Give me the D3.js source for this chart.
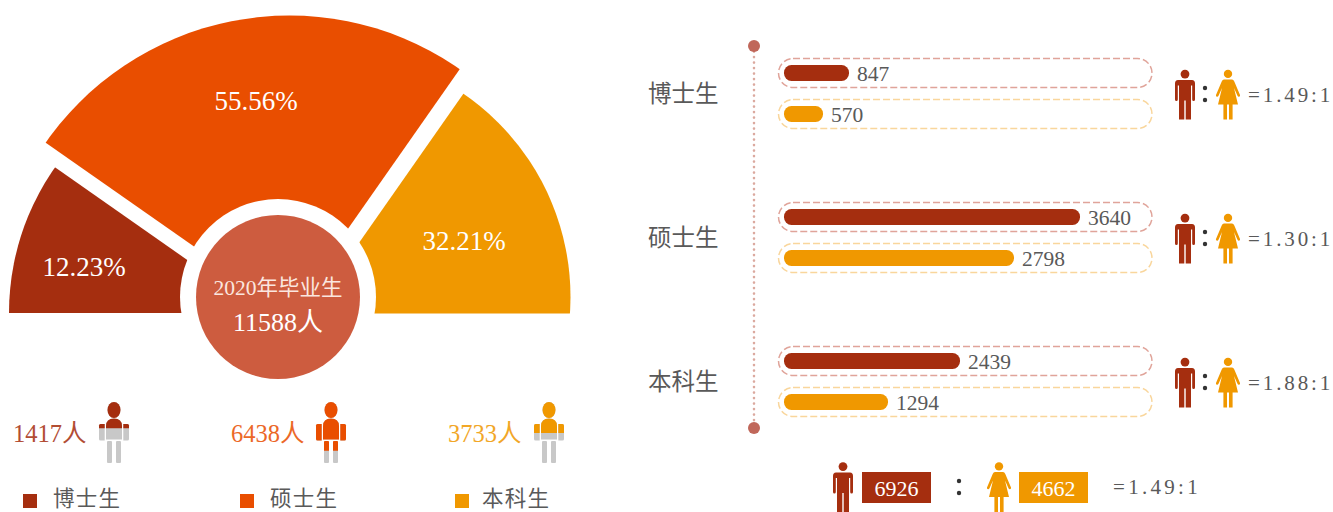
<!DOCTYPE html>
<html>
<head>
<meta charset="utf-8">
<script src="https://cdn.jsdelivr.net/npm/d3@7"></script>
<style>
  html, body { margin: 0; padding: 0; background: #fff; overflow: hidden; }
  svg { display: block; }
  text { font-family: "Liberation Serif", "Noto Sans CJK SC", serif; }
</style>
</head>
<body>
<svg id="chart" width="1333" height="512"></svg>
<script>
// Values
const categories = ["博士生", "硕士生", "本科生"];
const percents = [12.23, 55.56, 32.21];
const totals = [1417, 6438, 3733];
const iconShare = [0.43, 0.8, 0.51];
const maleCounts = [847, 3640, 2439];
const femaleCounts = [570, 2798, 1294];
const ratios = ["1.49:1", "1.30:1", "1.88:1"];
const allMale = 6926;
const allFemale = 4662;
const allRatio = "1.49:1";
const centerTitle = "2020年毕业生";
const centerTotal = 11588;

const colors = ["#a52e0f", "#e94e00", "#f09800"];
const maleColor = "#a52e0f";
const femaleColor = "#f09800";
const textGray = "#595959";

const svg = d3.select("#chart");

// Fan on the left. The original does not draw its angles in proportion,
// so the angle scale is piecewise, and each slice is pulled out on its own.
const cumulative = d3.cumsum(percents);
const angle = d3.scaleLinear()
  .domain([0, ...cumulative])
  .range([-90, -55, 35, 90].map((d) => (d * Math.PI) / 180));

// x, y = wedge apex; cx, cy, r = circle that trims the outer edge
const sliceLayout = [
  { x: 263, y: 313, cx: 263, cy: 313, r: 254, lx: 84, ly: 267 },
  { x: 289, y: 313, cx: 289.5, cy: 313, r: 297.5, lx: 256, ly: 101 },
  { x: 309.5, y: 313.5, cx: 324, cy: 297, r: 246.5, lx: 464, ly: 241 },
];

const arc = d3.arc().innerRadius(0).outerRadius(420);
const g_fan = svg.append("g");

g_fan.selectAll("clipPath")
  .data(sliceLayout)
  .join("clipPath")
  .attr("id", (d, i) => `slice_clip_${i}`)
  .append("circle")
  .attr("cx", (d) => d.cx)
  .attr("cy", (d) => d.cy)
  .attr("r", (d) => d.r);

g_fan.selectAll("g.slice")
  .data(percents)
  .join("g")
  .attr("class", "slice")
  .attr("clip-path", (d, i) => `url(#slice_clip_${i})`)
  .append("path")
  .attr("transform", (d, i) => `translate(${sliceLayout[i].x},${sliceLayout[i].y})`)
  .attr("fill", (d, i) => colors[i])
  .attr("d", (d, i) => arc({
    startAngle: angle(i === 0 ? 0 : cumulative[i - 1]),
    endAngle: angle(cumulative[i]),
  }));

g_fan.append("circle").attr("cx", 278).attr("cy", 297).attr("r", 98).attr("fill", "#fff");
g_fan.append("circle").attr("cx", 278).attr("cy", 297).attr("r", 82).attr("fill", "#cd5c3f");

g_fan.selectAll(".pct")
  .data(percents)
  .join("text")
  .attr("class", "pct")
  .attr("x", (d, i) => sliceLayout[i].lx)
  .attr("y", (d, i) => sliceLayout[i].ly)
  .attr("dy", "0.35em")
  .attr("text-anchor", "middle")
  .attr("fill", "#fff")
  .style("font-size", "27px")
  .text((d) => d.toFixed(2) + "%");

g_fan.append("text")
  .attr("x", 278).attr("y", 287).attr("dy", "0.35em")
  .attr("text-anchor", "middle").attr("fill", "#fbe6df")
  .style("font-size", "21.5px")
  .text(centerTitle);
g_fan.append("text")
  .attr("x", 278).attr("y", 322).attr("dy", "0.35em")
  .attr("text-anchor", "middle").attr("fill", "#fff")
  .style("font-size", "26px")
  .text(centerTotal + "人");

// Icons, drawn around x = 0, top at y = 0
function malePath(g, color) {
  g.append("circle").attr("cx", 0).attr("cy", 4.6).attr("r", 4.4).attr("fill", color);
  g.append("path").attr("fill", color)
    .attr("d", "M-7,10.5H7Q10,10.5 10,14V30Q10,31.5 8.6,31.5Q7.2,31.5 7.2,30V16H6V50H0.7V31H-0.7V50H-6V16H-7.2V30Q-7.2,31.5 -8.6,31.5Q-10,31.5 -10,30V14Q-10,10.5 -7,10.5Z");
}

function femalePath(g, color) {
  g.append("circle").attr("cx", 0).attr("cy", 4.4).attr("r", 4.2).attr("fill", color);
  g.append("path").attr("fill", color)
    .attr("d", "M-4,10H4Q5.5,10 6.3,12L12,25.5Q12.4,27 11,27.3Q10,27.4 9.5,26.3L6,18.5L10,35H4.6V50H1V35H-1V50H-4.6V35H-10L-6,18.5L-9.5,26.3Q-10,27.4 -11,27.3Q-12.4,27 -12,25.5L-6.3,12Q-5.5,10 -4,10Z");
}

function iconShape(g, color) {
  g.append("ellipse").attr("cx", 0).attr("cy", 8).attr("rx", 6.5).attr("ry", 8).attr("fill", color);
  g.append("path").attr("fill", color)
    .attr("d", "M-8,24Q-8,16.5 0,16.5Q8,16.5 8,24V37.5H-8Z");
  g.append("path").attr("fill", color)
    .attr("d", "M-15,23.5Q-15,22 -13.5,22H-9.3V38.5H-13.5Q-15,38.5 -15,37Z");
  g.append("path").attr("fill", color)
    .attr("d", "M15,23.5Q15,22 13.5,22H9.3V38.5H13.5Q15,38.5 15,37Z");
  g.append("rect").attr("x", -7).attr("y", 39).attr("width", 5).attr("height", 22).attr("rx", 1).attr("fill", color);
  g.append("rect").attr("x", 2).attr("y", 39).attr("width", 5).attr("height", 22).attr("rx", 1).attr("fill", color);
}

function colon(x, y) {
  svg.append("circle").attr("cx", x).attr("cy", y - 6).attr("r", 2.2).attr("fill", "#333");
  svg.append("circle").attr("cx", x).attr("cy", y + 6).attr("r", 2.2).attr("fill", "#333");
}

// Totals with filled figures under the fan
const totalLayout = [
  { tx: 13, ix: 114, sx: 23, lx: 53 },
  { tx: 231, ix: 331, sx: 240, lx: 270 },
  { tx: 448, ix: 549, sx: 455, lx: 482 },
];
const iconHeight = 61;
const g_totals = svg.append("g");

totals.forEach((d, i) => {
  const p = totalLayout[i];
  g_totals.append("text")
    .attr("x", p.tx).attr("y", 433).attr("dy", "0.35em")
    .attr("fill", colors[i]).attr("opacity", 0.85)
    .style("font-size", "24.5px")
    .text(d + "人");

  const g = g_totals.append("g").attr("transform", `translate(${p.ix},402)`);
  iconShape(g.append("g"), "#c8c8c8");
  svg.append("clipPath").attr("id", `icon_clip_${i}`)
    .append("rect").attr("x", -20).attr("y", 0)
    .attr("width", 40).attr("height", iconHeight * iconShare[i]);
  iconShape(g.append("g").attr("clip-path", `url(#icon_clip_${i})`), colors[i]);

  g_totals.append("rect")
    .attr("x", p.sx).attr("y", 494).attr("width", 14).attr("height", 14)
    .attr("fill", colors[i]);
  // Kept just inside the bottom edge so the whole line box fits
  g_totals.append("text")
    .attr("x", p.lx).attr("y", 498).attr("dy", "0.35em")
    .attr("fill", textGray)
    .style("font-size", "21.5px")
    .style("letter-spacing", "1.2px")
    .text(categories[i]);
});

// Bars on the right. The original's bar lengths are not strictly linear either.
const barStart = 784;
const barLength = d3.scaleLinear()
  .domain([0, 570, 847, 1294, 2439, 2798, 3640])
  .range([0, 39, 65, 104, 176, 230, 296]);
const yGroup = d3.scalePoint().domain(categories).range([93, 381]);

const g_bars = svg.append("g");

g_bars.append("line")
  .attr("x1", 754).attr("x2", 754).attr("y1", 46).attr("y2", 428)
  .attr("stroke", "#dba99f").attr("stroke-width", 2.6)
  .attr("stroke-linecap", "round").attr("stroke-dasharray", "0.1 5.4");
[46, 428].forEach((y) => {
  g_bars.append("circle").attr("cx", 754).attr("cy", y).attr("r", 6).attr("fill", "#c0675a");
});

const series = [
  { values: maleCounts, color: maleColor, outline: "#e0a49a", dy: -20 },
  { values: femaleCounts, color: femaleColor, outline: "#f9d69c", dy: 21 },
];

series.forEach((s) => {
  const g = g_bars.append("g");
  g.selectAll("rect.outline")
    .data(s.values)
    .join("rect")
    .attr("class", "outline")
    .attr("x", 778.5)
    .attr("y", (d, i) => yGroup(categories[i]) + s.dy - 14.5)
    .attr("width", 373.5).attr("height", 29).attr("rx", 14.5)
    .attr("fill", "none")
    .attr("stroke", s.outline).attr("stroke-width", 1.5)
    .attr("stroke-dasharray", "7 3");
  g.selectAll("rect.bar")
    .data(s.values)
    .join("rect")
    .attr("class", "bar")
    .attr("x", barStart)
    .attr("y", (d, i) => yGroup(categories[i]) + s.dy - 8)
    .attr("width", (d) => barLength(d)).attr("height", 16).attr("rx", 7.5)
    .attr("fill", s.color);
  g.selectAll("text")
    .data(s.values)
    .join("text")
    .attr("x", (d) => barStart + barLength(d) + 8)
    .attr("y", (d, i) => yGroup(categories[i]) + s.dy)
    .attr("dy", "0.35em")
    .attr("fill", textGray)
    .style("font-size", "21.5px")
    .text((d) => d);
});

categories.forEach((c, i) => {
  const y = yGroup(c);
  g_bars.append("text")
    .attr("x", 648).attr("y", y + 1).attr("dy", "0.35em")
    .attr("fill", textGray)
    .style("font-size", "23.5px")
    .text(c);
  malePath(svg.append("g").attr("transform", `translate(1185,${y - 23.5})`), maleColor);
  femalePath(svg.append("g").attr("transform", `translate(1228,${y - 23.5})`), femaleColor);
  colon(1205, y + 1);
  g_bars.append("text")
    .attr("x", 1248).attr("y", y + 2).attr("dy", "0.35em")
    .attr("fill", textGray)
    .style("font-size", "21px").style("letter-spacing", "2.9px")
    .text("=" + ratios[i]);
});

// Summary row
malePath(svg.append("g").attr("transform", "translate(843,462)"), maleColor);
femalePath(svg.append("g").attr("transform", "translate(999,462)"), femaleColor);
colon(959, 487);

[[allMale, 862, maleColor], [allFemale, 1019, femaleColor]].forEach(([v, x, color]) => {
  svg.append("rect").attr("x", x).attr("y", 472).attr("width", 69).attr("height", 31).attr("fill", color);
  svg.append("text")
    .attr("x", x + 34.5).attr("y", 488).attr("dy", "0.35em")
    .attr("text-anchor", "middle").attr("fill", "#fff")
    .style("font-size", "22px")
    .text(v);
});

svg.append("text")
  .attr("x", 1113).attr("y", 487).attr("dy", "0.35em")
  .attr("fill", textGray)
  .style("font-size", "21px").style("letter-spacing", "3.3px")
  .text("=" + allRatio);
</script>
</body>
</html>
